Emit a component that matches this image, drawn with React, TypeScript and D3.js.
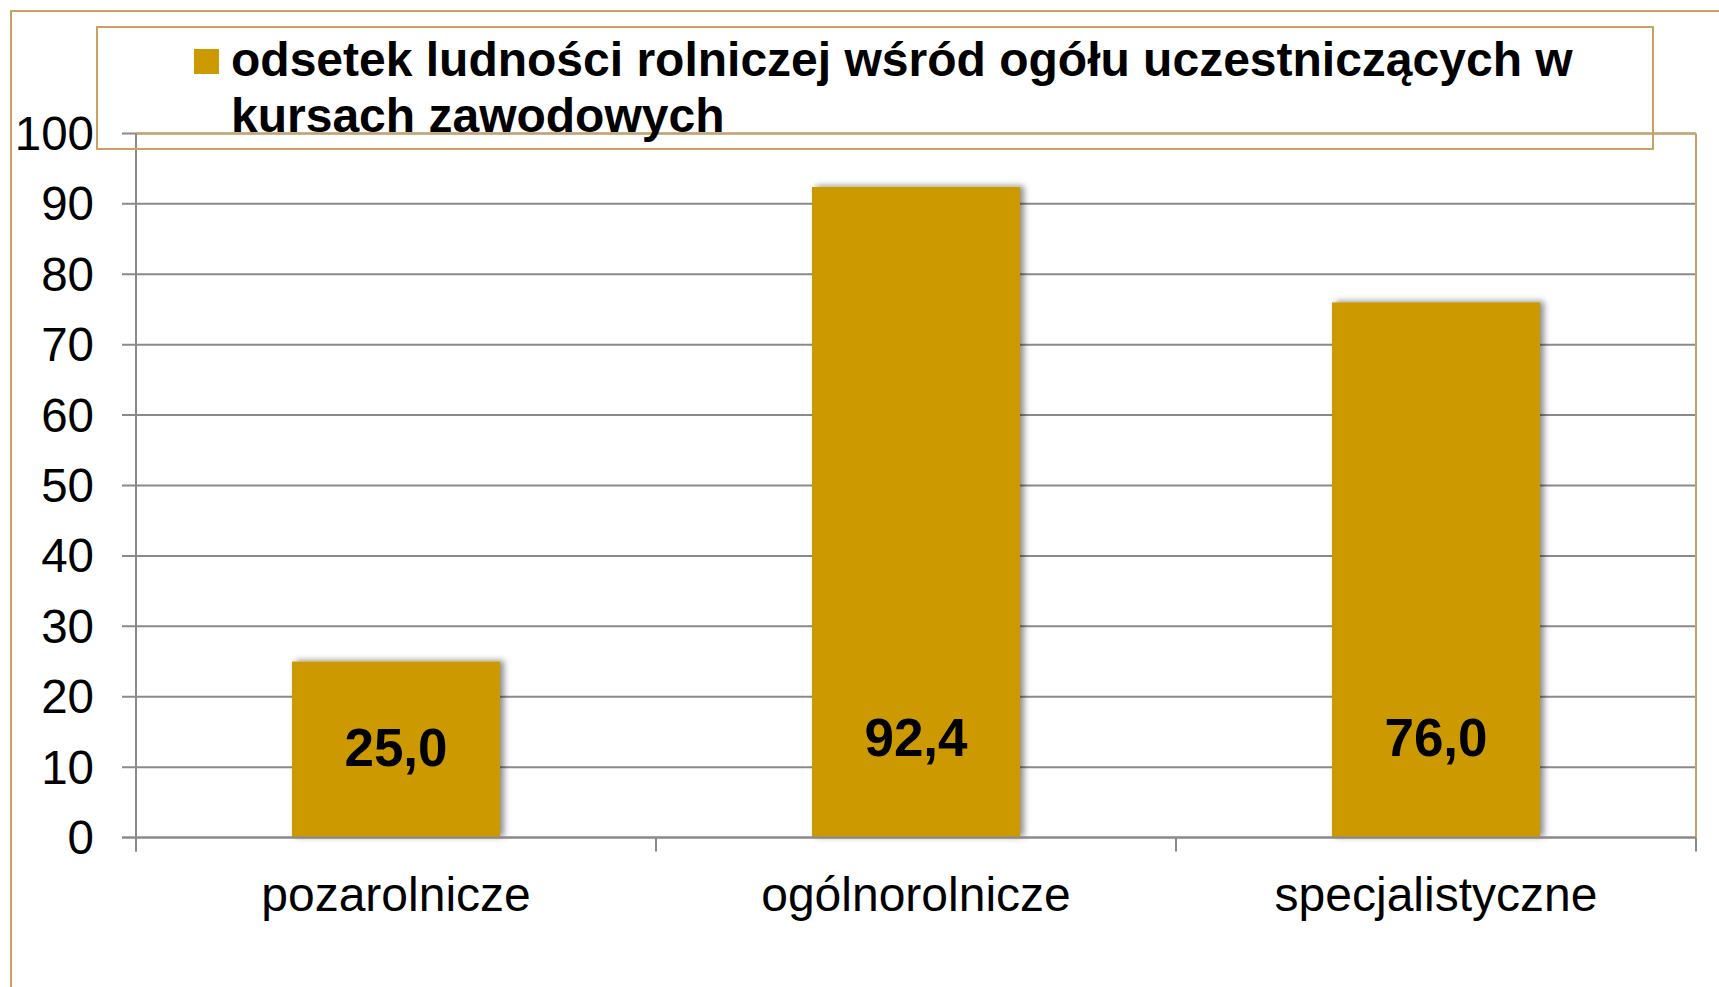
import React from "react";
import * as d3 from "d3";

const categories = ["pozarolnicze", "ogólnorolnicze", "specjalistyczne"];
const values = [25.0, 92.4, 76.0];
const valueLabels = ["25,0", "92,4", "76,0"];
const yTicks = [0, 10, 20, 30, 40, 50, 60, 70, 80, 90, 100];
const legendLines = [
  "odsetek ludności rolniczej wśród ogółu uczestniczących w",
  "kursach zawodowych",
];

const W = 1719;
const H = 987;
const FONT = "'Liberation Sans', Arial, Helvetica, sans-serif";
const TAN = "#CBA163";
const GRID = "#8A8A8A";
const BAR = "#CC9900";

export default function App() {
  const plot = { left: 136, right: 1696, top: 133.4, bottom: 837.6 };
  const y = d3.scaleLinear().domain([0, 100]).range([plot.bottom, plot.top]);
  const x = d3
    .scaleBand<string>()
    .domain(categories)
    .range([plot.left, plot.right])
    .padding(0);
  const bw = x.bandwidth();
  const barW = bw * 0.4;
  const boundaries = [...categories.map((c) => x(c) as number), plot.right];

  return (
    <svg
      width={W}
      height={H}
      style={{ position: "absolute", left: 0, top: 0, display: "block", background: "#fff" }}
      fontFamily={FONT}
    >
      <defs>
        <filter id="shadow" x="-20%" y="-20%" width="140%" height="140%">
          <feDropShadow dx="4" dy="-1" stdDeviation="3" floodColor="#000" floodOpacity="0.45" />
        </filter>
      </defs>
      <rect x={0} y={0} width={W} height={H} fill="#fff" />
      {/* outer frame */}
      <rect x={11} y={11} width={W + 40} height={H + 40} fill="none" stroke={TAN} strokeWidth={2} />

      {/* gridlines */}
      {yTicks.map((t) => (
        <line
          key={"g" + t}
          x1={plot.left - 14}
          x2={plot.right}
          y1={y(t)}
          y2={y(t)}
          stroke={GRID}
          strokeWidth={2}
        />
      ))}

      {/* plot area border (top, right) */}
      <line x1={plot.left} x2={plot.right} y1={plot.top} y2={plot.top} stroke={TAN} strokeWidth={2} />
      <line x1={plot.right} x2={plot.right} y1={plot.top} y2={plot.bottom} stroke={TAN} strokeWidth={2} />

      {/* bars */}
      {categories.map((c, i) => {
        const bx = (x(c) as number) + (bw - barW) / 2;
        return (
          <rect
            key={"b" + c}
            x={bx}
            y={y(values[i])}
            width={barW}
            height={y(0) - y(values[i])}
            fill={BAR}
            filter="url(#shadow)"
          />
        );
      })}

      {/* axes */}
      <line x1={plot.left} x2={plot.left} y1={plot.top} y2={plot.bottom + 14} stroke={GRID} strokeWidth={2} />
      <line x1={plot.left - 14} x2={plot.right} y1={y(0)} y2={y(0)} stroke={GRID} strokeWidth={2} />
      {boundaries.map((bx, i) => (
        <line key={"t" + i} x1={bx} x2={bx} y1={y(0)} y2={y(0) + 14} stroke={GRID} strokeWidth={2} />
      ))}

      {/* y tick labels */}
      {yTicks.map((t) => (
        <text key={"yl" + t} x={94} y={y(t) + 16.5} fontSize={47.5} textAnchor="end" fill="#000">
          {t}
        </text>
      ))}

      {/* category labels */}
      {categories.map((c) => (
        <text
          key={"cl" + c}
          x={(x(c) as number) + bw / 2}
          y={911}
          fontSize={48}
          textAnchor="middle"
          fill="#000"
        >
          {c}
        </text>
      ))}

      {/* value labels */}
      {categories.map((c, i) => {
        const cy = Math.max(y(values[i] / 2), y(0) - 97.6) - 3;
        return (
          <text
            key={"vl" + c}
            x={(x(c) as number) + bw / 2}
            y={cy + 19}
            fontSize={53}
            fontWeight="bold"
            textAnchor="middle"
            fill="#000"
          >
            {valueLabels[i]}
          </text>
        );
      })}

      {/* legend */}
      <rect x={97} y={27} width={1556} height={122} fill="none" stroke={TAN} strokeWidth={2} />
      <rect x={194} y={49} width={25} height={25} fill={BAR} />
      {legendLines.map((l, i) => (
        <text key={"lg" + i} x={231} y={76 + i * 55.7} fontSize={48} fontWeight="bold" fill="#000">
          {l}
        </text>
      ))}
    </svg>
  );
}
